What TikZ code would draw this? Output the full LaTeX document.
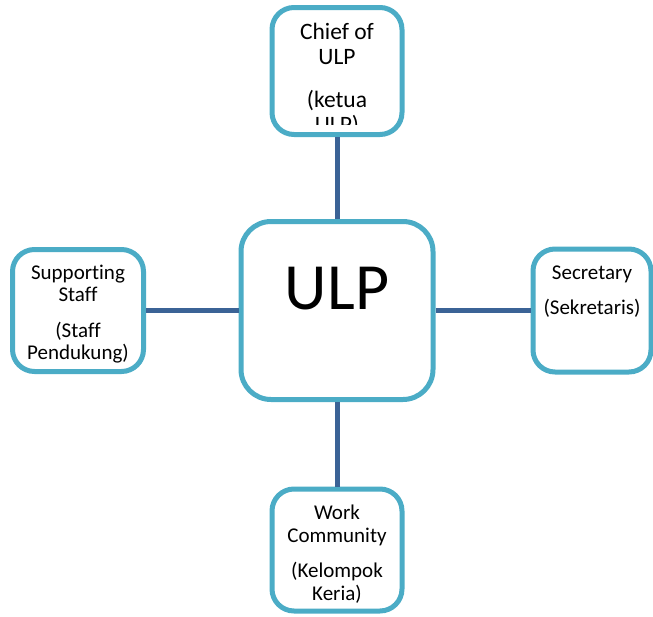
\documentclass[tikz,border=0pt]{standalone}
\usepackage{fontspec}
\setmainfont{Carlito}[Ligatures=CommonOff]
\usetikzlibrary{calc}
\definecolor{boxline}{RGB}{75,172,198}
\definecolor{linkline}{RGB}{59,99,150}

\begin{document}
\begin{tikzpicture}[x=1pt, y=-1pt,
  box/.style={draw=boxline, line width=5pt, fill=white, rounded corners=22pt, inner sep=0pt},
  link/.style={draw=linkline, line width=5pt},
  txt/.style={anchor=base, align=center, inner sep=0pt, font=\fontsize{21}{22}\selectfont}]
\useasboundingbox (0,0) rectangle (653,616);
\node[box, minimum width=192pt, minimum height=178pt, rounded corners=30pt] (ulp) at (337,310.5) {};
\node[box, minimum width=130pt, minimum height=127pt] (chief) at (337,71) {};
\node[box, minimum width=131pt, minimum height=122pt] (staff) at (78,310.5) {};
\node[box, minimum width=118pt, minimum height=123pt] (sec) at (592,310.5) {};
\node[box, minimum width=130pt, minimum height=122pt] (work) at (337,550) {};
\draw[link] (chief) -- (ulp);
\draw[link] (staff) -- (ulp);
\draw[link] (ulp) -- (sec);
\draw[link] (ulp) -- (work);
% base anchor = baseline of the last line
\node[txt, font=\fontsize{66}{70}\selectfont] (ulptext) at ($(ulp.north)+(0,90.2)$) {ULP};
\begin{scope}
\clip ($(chief.south west)+(0,-12.5)$) rectangle (chief.north east);
\node[txt, font=\fontsize{23.5}{25}\selectfont] (chieftext) at ($(chief.north)+(0,127.2)$) {Chief of\\ULP\\[18pt](ketua\\ULP)};
\end{scope}
\begin{scope}
\clip ($(staff.south west)+(0,-9.5)$) rectangle (staff.north east);
\node[txt] (stafftext) at ($(staff.north)+(0,112.2)$) {Supporting\\Staff\\[14pt](Staff\\Pendukung)};
\end{scope}
\node[txt] (sectext) at ($(sec.north)+(0,68.2)$) {Secretary\\[13.5pt](Sekretaris)};
\begin{scope}
\clip ($(work.south west)+(0,-8)$) rectangle (work.north east);
\node[txt, font=\fontsize{21}{23}\selectfont] (worktext) at ($(work.north)+(0,113.7)$) {Work\\Community\\[12pt](Kelompok\\Keria)};
\end{scope}
\end{tikzpicture}
\end{document}
